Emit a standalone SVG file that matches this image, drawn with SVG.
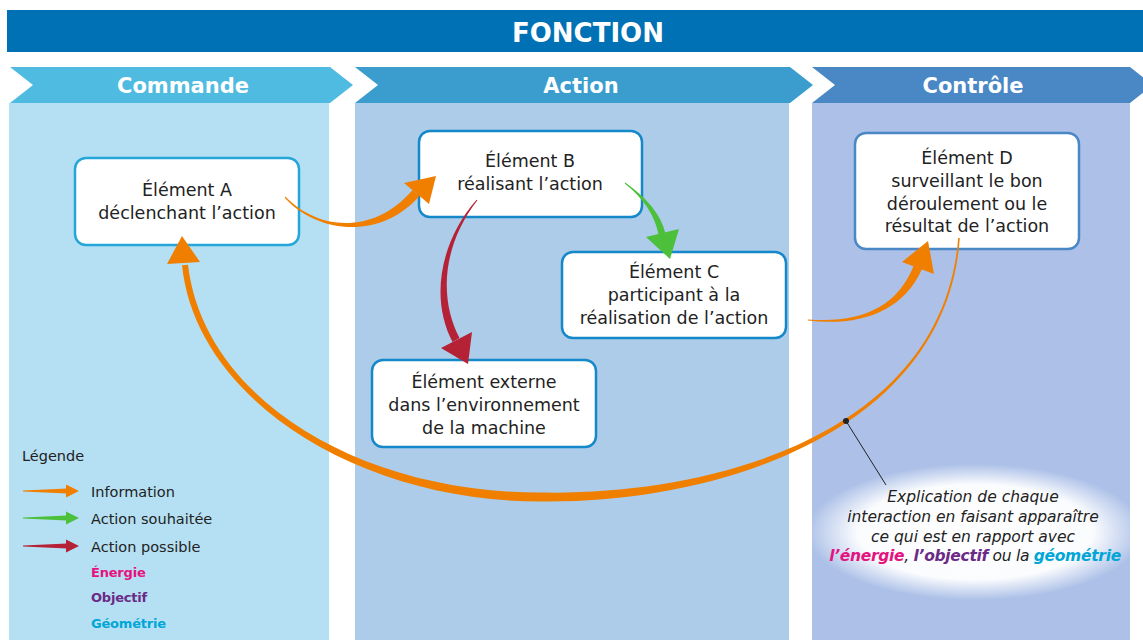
<svg xmlns="http://www.w3.org/2000/svg" width="1143" height="640" viewBox="0 0 1143 640">
<defs>
<style>
.hdr{font-family:"DejaVu Sans",sans-serif;font-weight:bold;fill:#fff;text-anchor:middle}
.nt{font-family:"DejaVu Sans",sans-serif;font-size:17.5px;fill:#222;text-anchor:middle}
.box{fill:#fff;stroke-width:2.5}
.lg{font-family:"DejaVu Sans",sans-serif;font-size:14.5px;fill:#222}
.lgb{font-family:"DejaVu Sans",sans-serif;font-size:13px;font-weight:bold;letter-spacing:-0.2px}
.ex{font-family:"DejaVu Sans",sans-serif;font-size:15.5px;font-style:italic;fill:#222;text-anchor:middle}
.or{fill:#f07f00}.gr{fill:#4cc03b}.rd{fill:#b52236}
</style>
<radialGradient id="glow" cx="0.5" cy="0.5" r="0.5">
<stop offset="0" stop-color="#fff" stop-opacity="1"/>
<stop offset="0.7" stop-color="#fff" stop-opacity="0.95"/>
<stop offset="1" stop-color="#fff" stop-opacity="0"/>
</radialGradient>
</defs>
<rect width="1143" height="640" fill="#fff"/>
<g id="banner">
<rect x="7" y="10" width="1140" height="42" fill="#0071b5"/>
<text class="hdr" x="588" y="42" font-size="26">FONCTION</text>
</g>
<g id="col-commande">
<rect x="9" y="103" width="320" height="537" fill="#b5e0f3"/>
<polygon points="10,67 330,67 353,85 330,103 10,103 33,85" fill="#4fbbe0"/>
<text class="hdr" x="183" y="93" font-size="21">Commande</text>
</g>
<g id="col-action">
<rect x="355" y="103" width="434" height="537" fill="#acccea"/>
<polygon points="355,67 790,67 813,85 790,103 355,103 378,85" fill="#3a9dce"/>
<text class="hdr" x="581" y="93" font-size="21">Action</text>
</g>
<g id="col-controle">
<rect x="812" y="103" width="318" height="537" fill="#adc1e8"/>
<polygon points="812,67 1130,67 1153,85 1130,103 812,103 835,85" fill="#4a88c5"/>
<text class="hdr" x="973" y="93" font-size="21">Contrôle</text>
</g>
<g id="explication">
<ellipse cx="975" cy="532" rx="168" ry="68" fill="url(#glow)"/>
<text class="ex" x="973" y="502">Explication de chaque</text>
<text class="ex" x="973" y="522">interaction en faisant apparaître</text>
<text class="ex" x="973" y="542">ce qui est en rapport avec</text>
<text class="ex" x="975" y="561" font-size="14.3" letter-spacing="-0.3"><tspan fill="#e5137f" font-weight="bold">l’énergie</tspan>, <tspan fill="#6b2a86" font-weight="bold">l’objectif</tspan> ou la <tspan fill="#00a6d6" font-weight="bold">géométrie</tspan></text>
</g>
<g id="nodeA">
<rect class="box" x="75" y="158" width="224" height="87" rx="11" stroke="#25a6d9"/>
<text class="nt" x="187" y="196">Élément A</text>
<text class="nt" x="187" y="219">déclenchant l’action</text>
</g>
<g id="nodeB">
<rect class="box" x="419" y="131" width="223" height="86" rx="11" stroke="#1488c8"/>
<text class="nt" x="530" y="167">Élément B</text>
<text class="nt" x="530" y="190">réalisant l’action</text>
</g>
<g id="nodeC">
<rect class="box" x="562" y="252" width="224" height="86" rx="11" stroke="#1488c8"/>
<text class="nt" x="674" y="278">Élément C</text>
<text class="nt" x="674" y="301">participant à la</text>
<text class="nt" x="674" y="324">réalisation de l’action</text>
</g>
<g id="nodeExt">
<rect class="box" x="372" y="360" width="224" height="87" rx="11" stroke="#1488c8"/>
<text class="nt" x="484" y="388">Élément externe</text>
<text class="nt" x="484" y="411">dans l’environnement</text>
<text class="nt" x="484" y="434">de la machine</text>
</g>
<g id="nodeD">
<rect class="box" x="855" y="133" width="224" height="116" rx="11" stroke="#4a88c5"/>
<text class="nt" x="967" y="164">Élément D</text>
<text class="nt" x="967" y="187">surveillant le bon</text>
<text class="nt" x="967" y="210">déroulement ou le</text>
<text class="nt" x="967" y="232">résultat de l’action</text>
</g>
<g id="connectors">
<path class="or" d="M284.6,197.4 C314,231 378,243 419.4,196 L412.6,190 C372,237 316,229 285.4,196.6 Z"/>
<polygon class="or" points="404,183 429,204 436,176"/>
<path class="gr" d="M625.3,182.6 C646,197.4 661,214.3 665.4,233.3 L658.6,234.7 C655,215.7 644,198.6 624.7,183.4 Z"/>
<polygon class="gr" points="646,237 679,229 670,259"/>
<path class="rd" d="M477.4,200.3 C442,246 439,298.5 459.5,338.1 L452.5,341.9 C431,301.5 438,244 476.6,199.7 Z"/>
<polygon class="rd" points="441,348 472,332 468,364"/>
<path class="or" d="M807.9,320.6 C860,326.5 903,312 922.1,268.7 L913.9,265.3 C897,308 860,323.5 808.1,319.4 Z"/>
<polygon class="or" points="902,262 934,274 928,241"/>
<path class="or" d="M959.8,238.1 C946.5,430.1 720,504 540,501.5 C360,501.5 196,400.4 182,265.3 L188,264.7 C204,399.6 360,492.5 540,492.5 C720,496 943.5,429.9 958.2,237.9 Z"/>
<polygon class="or" points="167,264 200,262 182,236"/>
<line x1="846" y1="421" x2="886" y2="485" stroke="#222" stroke-width="1"/>
<circle cx="846" cy="421" r="3" fill="#222"/>
</g>
<g id="legend">
<text class="lg" x="22" y="461" font-size="14">Légende</text>
<path class="or" d="M23,490.5 L67,488.5 L67,493.5 L23,491.5 Z"/>
<polygon class="or" points="66,484.5 79,491 66,497.5"/>
<text class="lg" x="91" y="497">Information</text>
<path class="gr" d="M23,517.5 L67,515.5 L67,520.5 L23,518.5 Z"/>
<polygon class="gr" points="66,511.5 79,518 66,524.5"/>
<text class="lg" x="91" y="524">Action souhaitée</text>
<path class="rd" d="M23,545.5 L67,543.5 L67,548.5 L23,546.5 Z"/>
<polygon class="rd" points="66,539.5 79,546 66,552.5"/>
<text class="lg" x="91" y="552">Action possible</text>
<text class="lgb" x="91" y="577" fill="#e5137f">Énergie</text>
<text class="lgb" x="91" y="602" fill="#6b2a86">Objectif</text>
<text class="lgb" x="91" y="628" fill="#00a6d6">Géométrie</text>
</g>
</svg>
